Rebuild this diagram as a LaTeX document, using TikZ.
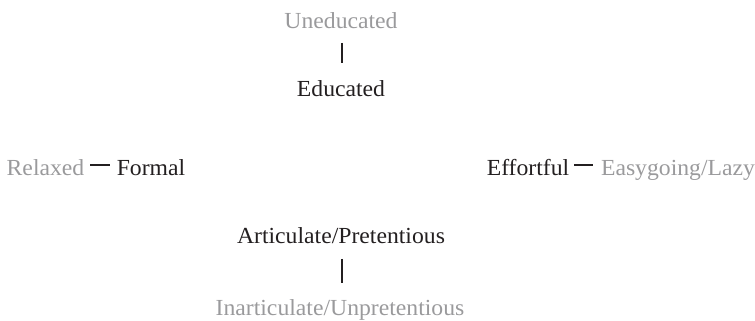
\documentclass[tikz,border=0pt]{standalone}
\usepackage{fontspec}
\setmainfont[FakeStretch=1.03]{Liberation Serif}
\definecolor{inkdark}{HTML}{231F20}
\definecolor{inkgray}{HTML}{9A9A9C}
\tikzset{
  lbl/.style={inner sep=0pt, outer sep=0pt, font=\fontsize{23}{27}\selectfont},
  posword/.style={lbl, text=inkdark},
  negword/.style={lbl, text=inkgray},
  bar/.style={draw=inkdark, line width=1.6pt},
}
\begin{document}
\begin{tikzpicture}[x=1pt,y=1pt]
\useasboundingbox (0,0) rectangle (755,321);
% top axis
\node[negword, anchor=base] (unedu) at (341,292) {Uneducated};
\node[posword, anchor=base] (edu) at (341,224) {Educated};
\coordinate (t1) at (342,278);
\coordinate (t2) at (342,258);
\draw[bar] (t1) -- (t2);
% left axis
\node[negword, anchor=base] (relax) at (45.5,145) {Relaxed};
\node[posword, anchor=base] (formal) at (151,145) {Formal};
\coordinate (l1) at (90,156);
\coordinate (l2) at (110,156);
\draw[bar] (l1) -- (l2);
% right axis
\node[posword, anchor=base] (effort) at (528,145) {Effortful};
\node[negword, anchor=base] (easy) at (678,145) {Easygoing/Lazy};
\coordinate (r1) at (574,156);
\coordinate (r2) at (593,156);
\draw[bar] (r1) -- (r2);
% bottom axis
\node[posword, anchor=base] (artic) at (341,77) {Articulate/Pretentious};
\node[negword, anchor=base] (inartic) at (340,5) {Inarticulate/Unpretentious};
\coordinate (b1) at (342,62);
\coordinate (b2) at (342,38);
\draw[bar] (b1) -- (b2);
\end{tikzpicture}
\end{document}
